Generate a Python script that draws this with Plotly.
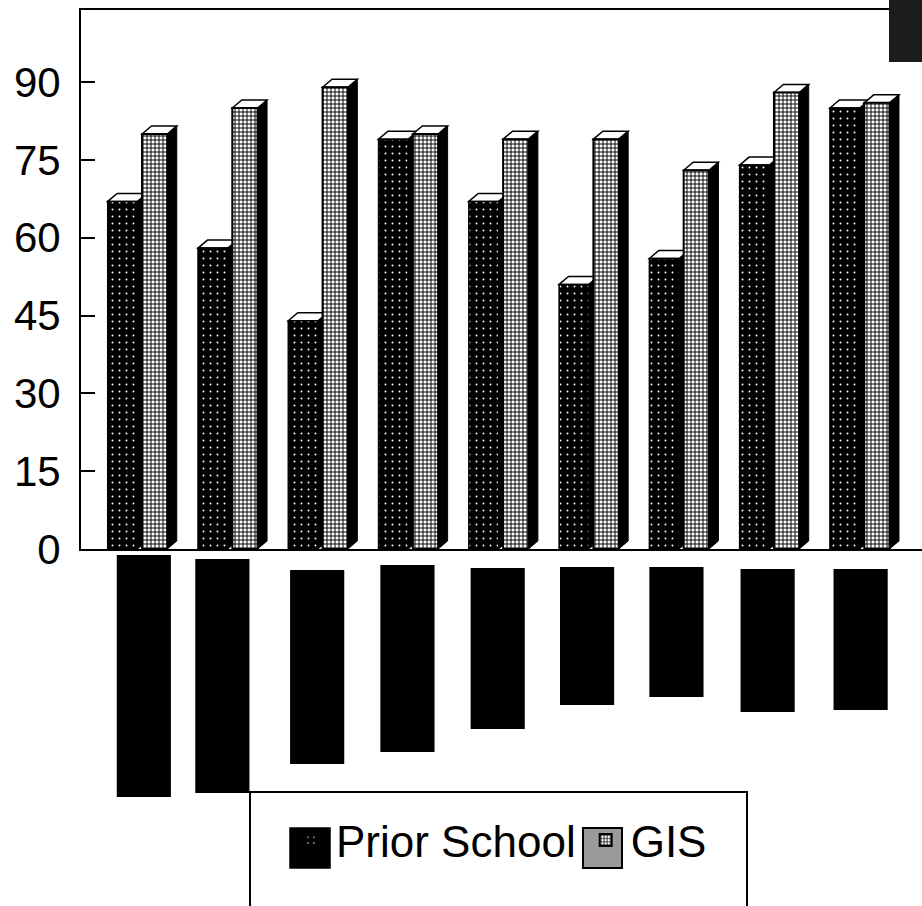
import plotly.graph_objects as go

# ---- data ----
categories = list(range(9))          # category labels are blacked out in the source
prior_school = [67, 58, 44, 79, 67, 51, 56, 74, 85]
gis = [80, 85, 89, 80, 79, 79, 73, 88, 86]
series_names = ["Prior School", "GIS"]
y_ticks = [0, 15, 30, 45, 60, 75, 90]

# redaction boxes hiding the category labels (depth below the axis, px; shift in categories)
label_box_top = [6, 10, 21, 16, 19, 18, 18, 20, 20]
label_box_bottom = [248, 244, 215, 203, 180, 156, 148, 163, 161]
label_box_shift = [0.07, -0.06, -0.01, -0.01, -0.01, -0.02, -0.03, -0.02, 0.01]

# ---- geometry / style ----
W, H = 922, 906
ML, MT = 81, 10
PLOT_BOTTOM = 549
LOWER_H = H - PLOT_BOTTOM                 # 357 px band under the axis
FULL_H = H - MT
y_split = LOWER_H / FULL_H

X_RANGE = [-0.626, 8.69]
Y_RANGE = [0, 103.9]

P_OFF, P_W = -0.33, 0.33
G_OFF, G_W = 0.05, 0.28
DX, DY = 0.105, 1.55                      # 3-D depth in data units

font = "Arial, Liberation Sans, sans-serif"

fig = go.Figure()

fig.add_trace(go.Bar(
    x=categories, y=prior_school, name=series_names[0],
    offset=P_OFF, width=P_W,
    marker=dict(color="black",
                line=dict(color="black", width=1.5),
                pattern=dict(shape=".", fgcolor="white", bgcolor="black",
                             size=7, solidity=0.06, fillmode="replace")),
    xaxis="x", yaxis="y",
))
fig.add_trace(go.Bar(
    x=categories, y=gis, name=series_names[1],
    offset=G_OFF, width=G_W,
    marker=dict(color="white",
                line=dict(color="black", width=2),
                pattern=dict(shape="+", fgcolor="black", bgcolor="white",
                             size=4, solidity=0.42, fillmode="replace")),
    xaxis="x", yaxis="y",
))

# redaction boxes drawn as bars in a lower band
fig.add_trace(go.Bar(
    x=[c + s for c, s in zip(categories, label_box_shift)],
    base=label_box_top,
    y=[b - t for t, b in zip(label_box_top, label_box_bottom)],
    width=0.6, marker=dict(color="black", line=dict(width=0)),
    showlegend=False, hoverinfo="skip",
    xaxis="x2", yaxis="y2",
))

shapes = []
def add_3d(vals, off, w):
    for c, v in zip(categories, vals):
        xl = c + off
        xr = xl + w
        side = (f"M{xr},0 L{xr + DX},{DY} L{xr + DX},{v + DY} L{xr},{v} Z")
        top = (f"M{xl},{v} L{xl + DX},{v + DY} L{xr + DX},{v + DY} L{xr},{v} Z")
        shapes.append(dict(type="path", path=side, xref="x", yref="y",
                           fillcolor="black", line=dict(color="black", width=1),
                           layer="below"))
        shapes.append(dict(type="path", path=top, xref="x", yref="y",
                           fillcolor="white", line=dict(color="black", width=1.5),
                           layer="below"))

add_3d(prior_school, P_OFF, P_W)
add_3d(gis, G_OFF, G_W)

def px_x(px):
    return (px - ML) / (W - ML)

def px_y(py):
    return (H - py) / FULL_H

# legend frame (runs off the bottom of the page)
shapes.append(dict(type="rect", xref="paper", yref="paper",
                   x0=px_x(250), x1=px_x(747), y0=px_y(915), y1=px_y(792),
                   line=dict(color="black", width=2), fillcolor="rgba(0,0,0,0)"))
# enlarged legend swatches, as in the original legend
shapes.append(dict(type="rect", xref="paper", yref="paper",
                   x0=px_x(290), x1=px_x(330), y0=px_y(868), y1=px_y(828),
                   line=dict(color="black", width=1.5), fillcolor="black"))
shapes.append(dict(type="rect", xref="paper", yref="paper",
                   x0=px_x(583), x1=px_x(622), y0=px_y(868), y1=px_y(828),
                   line=dict(color="black", width=2), fillcolor="#9a9a9a"))
# dark scan blotch in the top-right corner
shapes.append(dict(type="rect", xref="paper", yref="paper",
                   x0=px_x(889), x1=px_x(925), y0=px_y(62), y1=px_y(-2),
                   line=dict(width=0), fillcolor="#1c1c1c"))

fig.update_layout(
    width=W, height=H,
    margin=dict(l=ML, r=0, t=MT, b=0, pad=0, autoexpand=False),
    paper_bgcolor="white", plot_bgcolor="white",
    barmode="overlay",
    font=dict(family=font, color="black"),
    shapes=shapes,
    showlegend=True,
    legend=dict(orientation="h", xref="container", yref="container",
                x=286 / W, y=1 - 805 / H,
                xanchor="left", yanchor="top",
                font=dict(family=font, size=44, color="black"),
                bgcolor="rgba(0,0,0,0)", borderwidth=0,
                itemwidth=40, traceorder="normal"),
    xaxis=dict(range=X_RANGE, domain=[0, 1], anchor="y",
               showticklabels=False, ticks="", showgrid=False, zeroline=False,
               showline=True, linecolor="black", linewidth=2, mirror=True),
    yaxis=dict(range=Y_RANGE, domain=[y_split, 1], anchor="x",
               tickvals=y_ticks, ticks="inside", ticklen=14, tickwidth=2,
               tickcolor="black", ticklabelstandoff=10,
               tickfont=dict(family=font, size=42, color="black"),
               showgrid=False, zeroline=False,
               showline=True, linecolor="black", linewidth=2),
    xaxis2=dict(range=X_RANGE, domain=[0, 1], anchor="y2", visible=False),
    yaxis2=dict(range=[LOWER_H, 0], domain=[0, y_split], anchor="x2",
                visible=False),
)

fig.write_html("out.html")
